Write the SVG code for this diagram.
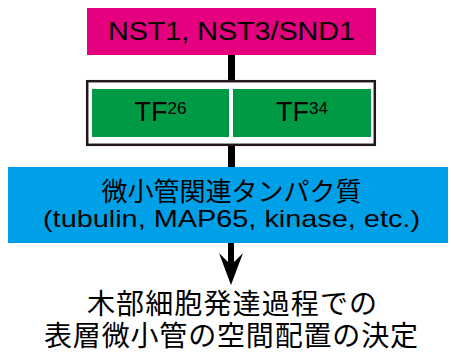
<svg xmlns="http://www.w3.org/2000/svg" width="451" height="355" viewBox="0 0 451 355">
<style>
.lat{font-family:"Liberation Sans","Noto Sans CJK JP",Arial,sans-serif;fill:#000}
.cjk{font-family:"Noto Sans CJK JP","Liberation Sans",sans-serif;fill:#000}
</style>
<rect width="451" height="355" fill="#fff"/>
<g id="connectors">
<rect x="228" y="55" width="7" height="26" fill="#000"/>
<rect x="228" y="145" width="7" height="23" fill="#000"/>
<polygon points="228,243 234,243 234,262 243,253 231,285 219,253 228,262" fill="#000"/>
</g>
<g id="nst">
<rect x="87" y="8" width="289" height="47" fill="#E4007F"/>
<text class="lat" x="231.5" y="40" font-size="25" text-anchor="middle" textLength="247" lengthAdjust="spacingAndGlyphs">NST1, NST3/SND1</text>
</g>
<g id="tf-frame">
<rect x="87.2" y="81.2" width="287.6" height="63.6" fill="#fff" stroke="#231815" stroke-width="2.5"/>
</g>
<g id="tf26">
<rect x="92" y="89" width="137" height="48" fill="#009944"/>
<text class="lat" x="160.5" y="121" font-size="27" text-anchor="middle">TF<tspan font-size="17" dy="-7">26</tspan></text>
</g>
<g id="tf34">
<rect x="233" y="89" width="138" height="48" fill="#009944"/>
<text class="lat" x="302" y="121" font-size="27" text-anchor="middle">TF<tspan font-size="17" dy="-7">34</tspan></text>
</g>
<g id="map">
<rect x="8" y="167" width="440" height="76" fill="#00A0E9"/>
<text class="cjk" x="231.5" y="201" font-size="26" text-anchor="middle">微小管関連タンパク質</text>
<text class="lat" x="231.5" y="227" font-size="24" text-anchor="middle" textLength="377" lengthAdjust="spacingAndGlyphs">(tubulin, MAP65, kinase, etc.)</text>
</g>
<g id="result">
<text class="cjk" x="232" y="314" font-size="28" text-anchor="middle" textLength="290">木部細胞発達過程での</text>
<text class="cjk" x="231" y="346" font-size="28" text-anchor="middle" textLength="374">表層微小管の空間配置の決定</text>
</g>
</svg>
